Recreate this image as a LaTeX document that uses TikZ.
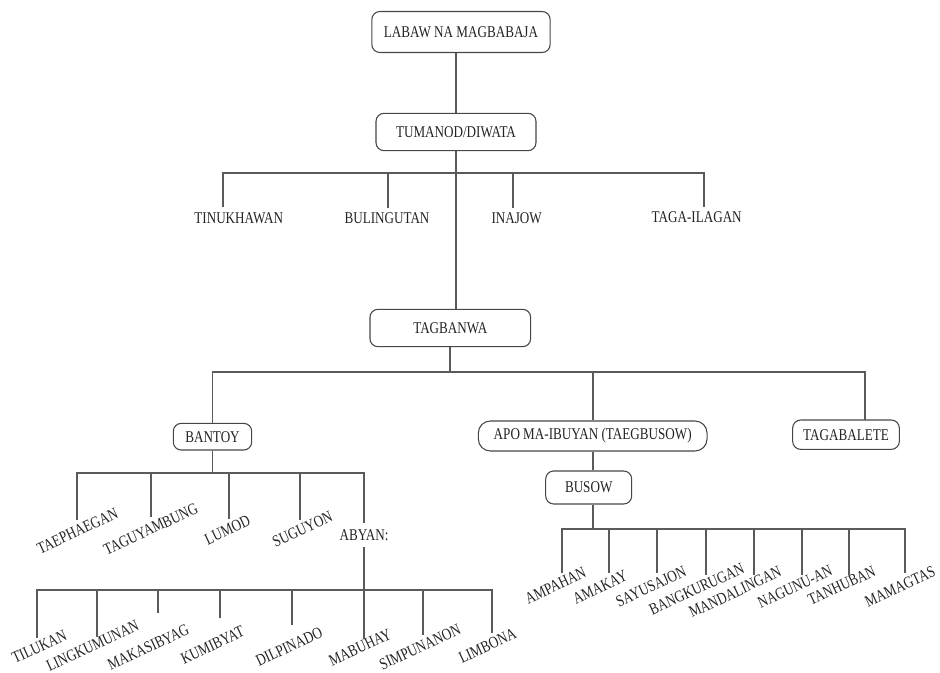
\documentclass[tikz,border=0pt]{standalone}
\usepackage{fontspec}
\setmainfont[FakeStretch=0.8]{Liberation Serif}
\usetikzlibrary{positioning, calc}
\definecolor{linegray}{RGB}{90, 90, 90}
\definecolor{boxgray}{RGB}{70, 70, 70}
\definecolor{textgray}{RGB}{35, 35, 35}
\tikzset{
  godbox/.style={draw=boxgray, line width=0.8pt, rounded corners=6pt, text=textgray, inner sep=0pt},
  godname/.style={text=textgray, inner sep=2pt},
  slanted/.style={godname, inner sep=0.5pt, rotate=25},
  link/.style={draw=linegray, line width=1.3pt},
}

\begin{document}
\begin{tikzpicture}[x=0.75pt, y=-0.75pt, font=\fontsize{12.3}{14}\selectfont]
  \useasboundingbox (0, 0) rectangle (940, 673);

  \node[godbox, minimum width=133.7pt, minimum height=30.75pt] (labaw) at (461, 32) {LABAW NA MAGBABAJA};
  \node[godbox, minimum width=120pt, minimum height=28pt] (tumanod) at (456, 132) {TUMANOD/DIWATA};
  \draw[link] (labaw.south -| tumanod.north) -- (tumanod.north);

  \node[godname] (tinukhawan) at (238.7, 218.3) {TINUKHAWAN};
  \node[godname] (bulingutan) at (387, 218) {BULINGUTAN};
  \node[godname] (inajow) at (516.7, 218.3) {INAJOW};
  \node[godname] (tagailagan) at (696.7, 216.7) {TAGA-ILAGAN};
  \coordinate (hub1) at (456, 173.3);
  \coordinate (tinukhawan-in) at (222.7, 207);
  \coordinate (bulingutan-in) at (388.3, 208);
  \coordinate (inajow-in) at (513.3, 208);
  \coordinate (tagailagan-in) at (704, 207);
  \draw[link] (tinukhawan-in) |- (hub1) -| (tagailagan-in);
  \draw[link] (hub1 -| bulingutan-in) -- (bulingutan-in);
  \draw[link] (hub1 -| inajow-in) -- (inajow-in);

  \node[godbox, minimum width=120.5pt, minimum height=28pt] (tagbanwa) at (450.3, 328) {TAGBANWA};
  \draw[link] (tumanod.south) -- (tumanod.south |- tagbanwa.north);

  \node[godbox, minimum width=58.8pt, minimum height=20pt] (bantoy) at (212.5, 436.7) {BANTOY};
  \node[godbox, rounded corners=9pt, minimum width=171.5pt, minimum height=22.5pt] (apo) at (592.7, 436) {APO MA-IBUYAN (TAEGBUSOW)};
  \node[godbox, minimum width=80pt, minimum height=22pt] (tagabalete) at (846, 434.7) {TAGABALETE};
  \coordinate (hub2) at (450.3, 372);
  \coordinate (tagabalete-in) at (865, 420);
  \draw[link] (tagbanwa.south) -- (hub2);
  \draw[link] (bantoy.north) |- (hub2) -| (tagabalete-in);
  \draw[link] (hub2 -| apo.north) -- (apo.north);

  \node[slanted] (taephaegan) at (77.5, 530.8) {TAEPHAEGAN};
  \node[slanted] (taguyambung) at (150.8, 529) {TAGUYAMBUNG};
  \node[slanted] (lumod) at (227.5, 530) {LUMOD};
  \node[slanted] (suguyon) at (302.5, 529) {SUGUYON};
  \node[godname, inner ysep=4.5pt] (abyan) at (364, 535) {ABYAN:};
  \coordinate (hub3) at (212.5, 473);
  \coordinate (taephaegan-in) at (77.3, 520);
  \coordinate (taguyambung-in) at (150.7, 517);
  \coordinate (lumod-in) at (229.3, 519);
  \coordinate (suguyon-in) at (300, 520);
  \draw[link] (bantoy.south) -- (hub3);
  \draw[link] (taephaegan-in) |- (hub3) -| (abyan.north);
  \draw[link] (hub3 -| taguyambung-in) -- (taguyambung-in);
  \draw[link] (hub3 -| lumod-in) -- (lumod-in);
  \draw[link] (hub3 -| suguyon-in) -- (suguyon-in);

  \node[slanted] (tilukan) at (39.2, 646.7) {TILUKAN};
  \node[slanted] (lingkumunan) at (92.5, 645.8) {LINGKUMUNAN};
  \node[slanted] (makasibyag) at (148.3, 647.5) {MAKASIBYAG};
  \node[slanted] (kumibyat) at (212.5, 645) {KUMIBYAT};
  \node[slanted] (dilpinado) at (289.2, 646.7) {DILPINADO};
  \node[slanted] (mabuhay) at (360, 647.5) {MABUHAY};
  \node[slanted] (simpunanon) at (420, 646.7) {SIMPUNANON};
  \node[slanted] (limbona) at (487.5, 645.8) {LIMBONA};
  \coordinate (hub4) at (364, 590);
  \coordinate (tilukan-in) at (36.7, 638);
  \coordinate (lingkumunan-in) at (96.7, 636.7);
  \coordinate (makasibyag-in) at (157.7, 613);
  \coordinate (kumibyat-in) at (220, 618);
  \coordinate (dilpinado-in) at (292, 625);
  \coordinate (mabuhay-in) at (364, 639);
  \coordinate (simpunanon-in) at (423.3, 635);
  \coordinate (limbona-in) at (491.7, 633.3);
  \draw[link] (abyan.south) -- (hub4);
  \draw[link] (tilukan-in) |- (hub4) -| (limbona-in);
  \draw[link] (hub4 -| lingkumunan-in) -- (lingkumunan-in);
  \draw[link] (hub4 -| makasibyag-in) -- (makasibyag-in);
  \draw[link] (hub4 -| kumibyat-in) -- (kumibyat-in);
  \draw[link] (hub4 -| dilpinado-in) -- (dilpinado-in);
  \draw[link] (hub4 -| mabuhay-in) -- (mabuhay-in);
  \draw[link] (hub4 -| simpunanon-in) -- (simpunanon-in);

  \node[godbox, minimum width=64.5pt, minimum height=24.75pt] (busow) at (588.7, 487.5) {BUSOW};
  \draw[link] (apo.south) -- (apo.south |- busow.north);

  \node[slanted] (ampahan) at (555.5, 585.8) {AMPAHAN};
  \node[slanted] (amakay) at (600, 587) {AMAKAY};
  \node[slanted] (sayusajon) at (651, 586.7) {SAYUSAJON};
  \node[slanted] (bangkurugan) at (696.7, 589) {BANGKURUGAN};
  \node[slanted] (mandalingan) at (735, 592) {MANDALINGAN};
  \node[slanted] (nagunuan) at (795, 587) {NAGUNU-AN};
  \node[slanted] (tanhuban) at (841.7, 585.7) {TANHUBAN};
  \node[slanted] (mamagtas) at (900, 586.7) {MAMAGTAS};
  \coordinate (hub5) at (592.7, 529);
  \coordinate (ampahan-in) at (561.7, 573.3);
  \coordinate (amakay-in) at (609, 572.7);
  \coordinate (sayusajon-in) at (657, 573.3);
  \coordinate (bangkurugan-in) at (706, 575);
  \coordinate (mandalingan-in) at (754, 575);
  \coordinate (nagunuan-in) at (801.7, 575);
  \coordinate (tanhuban-in) at (849, 575);
  \coordinate (mamagtas-in) at (905, 573);
  \draw[link] (busow.south -| hub5) -- (hub5);
  \draw[link] (ampahan-in) |- (hub5) -| (mamagtas-in);
  \draw[link] (hub5 -| amakay-in) -- (amakay-in);
  \draw[link] (hub5 -| sayusajon-in) -- (sayusajon-in);
  \draw[link] (hub5 -| bangkurugan-in) -- (bangkurugan-in);
  \draw[link] (hub5 -| mandalingan-in) -- (mandalingan-in);
  \draw[link] (hub5 -| nagunuan-in) -- (nagunuan-in);
  \draw[link] (hub5 -| tanhuban-in) -- (tanhuban-in);
\end{tikzpicture}
\end{document}
